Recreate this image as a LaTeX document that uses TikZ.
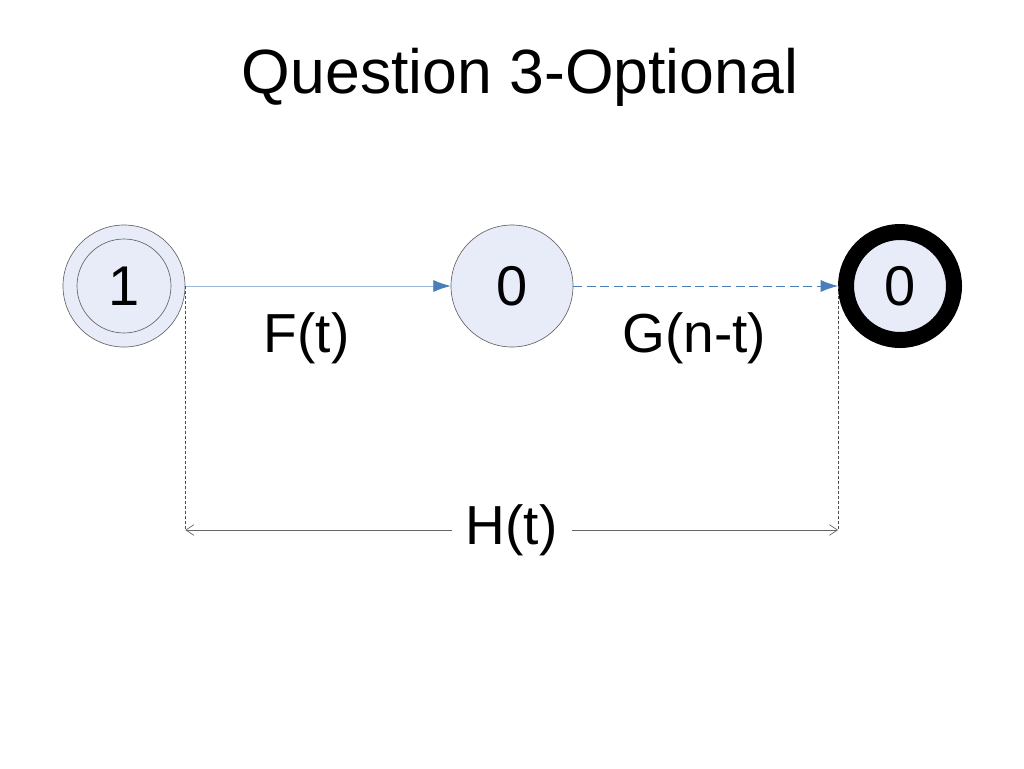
\documentclass[tikz,border=0pt]{standalone}
\usepackage{fontspec}
\setmainfont{Liberation Sans}
\usetikzlibrary{arrows.meta}
\definecolor{statefill}{RGB}{232,236,248}
\definecolor{edgeblue}{RGB}{74,126,187}

\begin{document}
\begin{tikzpicture}[
state/.style={circle, draw=black!60, fill=statefill, line width=0.5pt, minimum size=91.5pt, inner sep=0pt, font=\fontsize{42pt}{50pt}\selectfont},
final/.style={circle, draw=black, fill=statefill, line width=12pt, minimum size=81pt, inner sep=0pt, font=\fontsize{42pt}{50pt}\selectfont},
edge/.style={draw=edgeblue, line width=0.6pt, -{Latex[length=13pt,width=9pt,color=edgeblue]}},
guide/.style={draw=black!70, line width=0.5pt, dash pattern=on 2.25pt off 1.5pt},
lbl/.style={font=\fontsize{41.25pt}{50pt}\selectfont, inner sep=0pt, anchor=base},
>={Straight Barb[length=6pt,width=8pt]}
]
\useasboundingbox (-93pt,-361.5pt) rectangle (675pt,214.5pt);
%Nodes
\node[state]      (n1)                                          {1};
\node[state]      (n2)     [right of=n1, xshift=262.55pt]       {0};
\node[final]      (n3)     [right of=n2, xshift=262.55pt]       {0};
\node[font=\fontsize{46.9pt}{56pt}\selectfont, inner sep=0pt] (title) [above of=n2, anchor=base, xshift=6pt, yshift=115.55pt] {Question 3-Optional};
\draw[draw=black!60, line width=0.5pt] (n1.center) circle (35.25pt);
\coordinate (hl) at ([yshift=-183pt]n1.east);
\coordinate (hr) at ([yshift=-183pt]n3.west);
%Lines
\draw[edge, draw=edgeblue!55] (n1) -- (n2) node [lbl, pos=0.457, yshift=-49.5pt] {F(t)};
\draw[edge, dash pattern=on 6.75pt off 3.4pt] (n2) -- (n3) node [lbl, pos=0.457, yshift=-49.5pt] {G(n-t)};
\draw[guide] (n1.east) -- (hl);
\draw[guide] (n3.west) -- (hr);
\draw[draw=black!60, line width=0.5pt, <->] (hl) -- (hr) node [midway, fill=white, inner xsep=10.65pt, font=\fontsize{41.25pt}{50pt}\selectfont] {H(t)};
\end{tikzpicture}
\end{document}
